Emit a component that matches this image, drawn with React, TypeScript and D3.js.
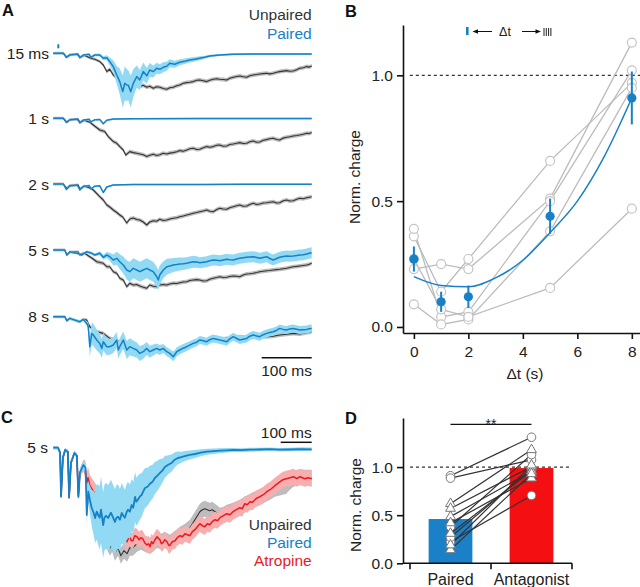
import React, { useRef, useEffect } from 'react';
import * as d3 from 'd3';

// ---------- panel A : mean traces, [time (ms), current (pA), sem (pA)] ----------
const a15Unpaired = [[0,0,15],[20,0,15],[27,-40,15],[33,-15,15],[50,-10,15],[53,-43,15],[62,-20,15],[75,-50,15],[83,-60,15],[93,-83,15],[100,-117,18],[107,-183,20],[113,-160,20],[120,-217,20],[133,-267,20],[147,-300,20],[160,-320,20],[173,-333,20],[180,-320,20],[187,-340,20],[193,-330,20],[200,-350,20],[207,-335,20],[213,-340,20],[220,-352,20],[227,-360,20],[233,-345,20],[240,-340,20],[247,-325,20],[253,-317,20],[260,-300,20],[267,-293,20],[273,-290,20],[280,-283,20],[287,-270,20],[293,-267,20],[300,-275,20],[307,-283,20],[313,-270,20],[320,-260,20],[327,-255,20],[333,-260,20],[340,-262,20],[347,-267,20],[353,-250,20],[360,-240,20],[367,-232,20],[373,-227,20],[380,-235,20],[387,-240,20],[393,-225,20],[400,-217,20],[407,-212,20],[413,-207,20],[420,-203,20],[427,-200,20],[433,-206,20],[440,-200,20],[447,-190,20],[453,-183,20],[460,-178,20],[467,-173,20],[473,-180,20],[480,-177,20],[487,-165,20],[493,-150,20],[500,-145,20],[507,-133,20],[512,-138,20],[517,-127,20]];
const a15Paired = [[0,0,10],[20,0,10],[26,-40,12],[33,-17,10],[48,-7,10],[53,-43,12],[60,-17,10],[72,-10,10],[75,-40,12],[83,-17,12],[93,-17,15],[100,-50,20],[107,-45,25],[113,-83,40],[120,-133,60],[127,-217,90],[133,-283,130],[139,-383,160],[143,-300,170],[147,-317,160],[150,-320,150],[155,-383,160],[160,-300,140],[167,-233,110],[173,-267,100],[180,-183,90],[187,-225,80],[193,-167,70],[200,-183,60],[207,-150,55],[213,-160,50],[220,-140,50],[227,-130,45],[233,-100,40],[243,-110,35],[253,-90,30],[263,-80,28],[273,-67,25],[283,-60,22],[293,-50,20],[303,-40,15],[313,-27,12],[333,-17,10],[360,-10,10],[400,-8,10],[440,-7,10],[517,-7,10]];

const a1Unpaired = [[0,0,15],[20,0,15],[27,-40,15],[33,-15,15],[50,-10,15],[53,-43,15],[62,-20,15],[73,-40,15],[80,-67,18],[93,-117,20],[103,-133,20],[110,-183,20],[120,-233,20],[127,-250,20],[133,-283,20],[140,-317,20],[145,-367,20],[153,-333,20],[160,-343,20],[167,-350,20],[173,-357,20],[180,-365,20],[187,-383,20],[193,-370,20],[200,-360,20],[207,-372,20],[213,-365,20],[220,-350,20],[227,-357,20],[233,-348,20],[240,-343,20],[247,-335,20],[253,-323,20],[260,-330,20],[267,-317,20],[273,-305,20],[280,-300,20],[287,-312,20],[293,-310,20],[300,-295,20],[307,-283,20],[313,-290,20],[320,-283,20],[327,-270,20],[333,-267,20],[340,-280,20],[347,-277,20],[353,-262,20],[360,-257,20],[367,-250,20],[373,-243,20],[380,-252,20],[387,-250,20],[393,-235,20],[400,-227,20],[407,-240,20],[413,-237,20],[420,-220,20],[427,-213,20],[433,-205,20],[440,-200,20],[447,-212,20],[453,-217,20],[460,-198,20],[467,-190,20],[473,-185,20],[480,-177,20],[487,-172,20],[493,-167,20],[500,-160,20],[507,-150,20],[512,-152,20],[517,-143,20]];
const a1Paired = [[0,0,8],[20,0,8],[26,-40,10],[33,-15,8],[48,-7,8],[53,-45,10],[60,-18,8],[72,-10,8],[75,-35,10],[83,-15,8],[93,-12,8],[100,-55,10],[107,-20,8],[120,-8,8],[160,-5,8],[300,-3,8],[517,-3,8]];

const a2Unpaired = [[0,0,15],[20,0,15],[27,-45,15],[33,-15,15],[50,-10,15],[53,-50,15],[62,-20,15],[75,-43,15],[80,-60,18],[93,-127,20],[100,-160,20],[107,-210,20],[113,-230,20],[120,-260,20],[127,-285,20],[133,-310,20],[139,-330,20],[143,-360,20],[147,-390,20],[153,-350,20],[160,-340,20],[167,-355,20],[173,-360,20],[180,-380,20],[187,-410,20],[193,-380,20],[200,-367,20],[207,-372,20],[213,-353,20],[220,-365,20],[227,-360,20],[233,-350,20],[240,-343,20],[247,-338,20],[253,-327,20],[260,-320,20],[267,-310,20],[273,-302,20],[280,-293,20],[287,-285,20],[293,-277,20],[300,-270,20],[307,-260,20],[313,-272,20],[320,-277,20],[327,-255,20],[333,-243,20],[340,-250,20],[347,-253,20],[353,-238,20],[360,-227,20],[367,-218,20],[373,-210,20],[380,-222,20],[387,-220,20],[393,-205,20],[400,-193,20],[407,-205,20],[413,-200,20],[420,-190,20],[427,-187,20],[433,-182,20],[440,-177,20],[447,-190,20],[453,-187,20],[460,-168,20],[467,-160,20],[473,-170,20],[480,-167,20],[487,-152,20],[493,-143,20],[500,-147,20],[507,-137,20],[512,-132,20],[517,-127,20]];
const a2Paired = [[0,0,8],[20,0,8],[26,-55,10],[33,-20,8],[48,-10,8],[53,-60,10],[60,-25,8],[72,-15,8],[75,-50,10],[83,-22,8],[93,-18,8],[100,-85,10],[107,-30,8],[120,-10,8],[160,-5,8],[300,-5,8],[380,-3,8],[517,-3,8]];

const a5Unpaired = [[0,0,15],[23,0,15],[27,-50,15],[33,-20,15],[50,-20,15],[53,-50,15],[62,-30,15],[73,-67,18],[77,-80,18],[87,-117,20],[100,-133,20],[107,-167,20],[113,-167,20],[120,-217,20],[127,-233,20],[133,-283,20],[140,-300,20],[147,-367,20],[153,-333,20],[160,-350,20],[167,-345,20],[173,-360,20],[180,-372,20],[187,-383,20],[193,-350,20],[200,-362,20],[207,-367,20],[213,-350,20],[220,-345,20],[227,-350,20],[233,-340,20],[240,-333,20],[247,-335,20],[253,-327,20],[260,-320,20],[267,-317,20],[273,-305,20],[280,-300,20],[287,-296,20],[293,-300,20],[300,-310,20],[307,-307,20],[313,-292,20],[320,-283,20],[327,-275,20],[333,-267,20],[340,-275,20],[347,-273,20],[353,-265,20],[360,-260,20],[367,-262,20],[373,-267,20],[380,-250,20],[387,-240,20],[393,-238,20],[400,-233,20],[407,-225,20],[413,-217,20],[420,-212,20],[427,-207,20],[433,-205,20],[440,-200,20],[447,-196,20],[453,-193,20],[460,-188,20],[467,-183,20],[473,-175,20],[480,-167,20],[487,-164,20],[493,-160,20],[500,-155,20],[507,-150,20],[512,-142,20],[517,-133,20]];
const a5Paired = [[0,0,8],[23,0,8],[27,-50,10],[33,-17,10],[53,-40,10],[57,-50,10],[67,-17,12],[77,-33,15],[83,-50,15],[93,-33,20],[100,-73,25],[107,-50,30],[113,-67,40],[120,-100,55],[127,-83,65],[133,-117,75],[140,-150,85],[147,-200,95],[153,-217,100],[160,-183,100],[167,-200,100],[173,-217,100],[180,-200,100],[187,-183,100],[193,-200,100],[200,-217,100],[207,-267,100],[210,-300,100],[213,-250,95],[220,-200,85],[227,-167,80],[233,-160,75],[240,-150,70],[247,-145,68],[253,-140,65],[260,-137,62],[267,-133,60],[273,-125,60],[280,-117,60],[287,-120,58],[293,-127,55],[300,-122,55],[307,-117,55],[313,-108,55],[320,-100,55],[327,-103,55],[333,-107,55],[340,-100,55],[347,-93,55],[353,-97,55],[360,-100,55],[367,-90,55],[373,-83,55],[380,-78,55],[387,-73,55],[393,-70,55],[400,-67,55],[407,-75,55],[413,-83,55],[420,-75,55],[427,-67,55],[433,-85,55],[440,-100,55],[447,-85,55],[453,-73,55],[460,-66,55],[467,-60,55],[473,-62,55],[480,-60,55],[487,-55,55],[493,-50,55],[500,-47,55],[507,-40,55],[512,-33,55],[517,-27,55]];

const a8Unpaired = [[0,0,15],[23,0,15],[27,-40,15],[33,-17,15],[53,-50,15],[60,-27,15],[67,-33,18],[73,-100,20],[87,-150,20],[100,-167,20],[113,-217,20],[127,-233,20],[140,-300,20],[147,-367,20],[160,-333,20],[173,-317,20],[187,-333,20],[200,-350,20],[213,-333,20],[227,-333,20],[240,-367,20],[253,-333,20],[267,-300,20],[280,-280,20],[293,-250,20],[307,-245,20],[320,-233,20],[333,-228,20],[347,-217,20],[360,-210,20],[373,-200,20],[387,-205,20],[400,-200,20],[413,-198,20],[427,-200,20],[440,-195,20],[453,-183,20],[467,-175,20],[480,-167,20],[493,-173,20],[507,-160,20],[517,-150,20]];
const a8Paired = [[0,0,10],[23,0,10],[27,-40,12],[33,-17,12],[53,-50,15],[60,-27,15],[67,-67,20],[70,-100,50],[73,-300,100],[77,-167,110],[80,-183,110],[87,-233,105],[93,-267,100],[97,-317,95],[100,-250,90],[107,-300,85],[113,-300,80],[120,-283,80],[127,-233,80],[130,-333,85],[133,-300,85],[140,-233,85],[147,-333,90],[153,-300,85],[160,-317,80],[167,-333,75],[173,-367,75],[180,-350,70],[187,-317,65],[193,-350,60],[200,-333,55],[207,-317,50],[213,-333,50],[220,-317,45],[227,-350,45],[233,-367,45],[240,-400,45],[247,-350,45],[253,-333,42],[260,-315,42],[267,-300,42],[273,-285,40],[280,-267,40],[287,-255,40],[293,-233,40],[300,-240,40],[307,-250,40],[313,-230,40],[320,-217,40],[327,-225,40],[333,-233,40],[340,-240,40],[347,-250,40],[353,-222,40],[360,-200,40],[367,-218,40],[373,-233,40],[380,-225,40],[387,-217,40],[393,-195,40],[400,-183,40],[407,-192,40],[413,-200,40],[420,-180,40],[427,-167,40],[433,-158,40],[440,-150,40],[447,-135,40],[453,-117,40],[460,-127,40],[467,-133,40],[473,-122,40],[480,-117,40],[487,-125,40],[493,-133,40],[500,-130,40],[507,-127,40],[512,-120,40],[517,-117,40]];

const aRowLabels = ['15 ms', '1 s', '2 s', '5 s', '8 s'];
const aUnpaired = [a15Unpaired, a1Unpaired, a2Unpaired, a5Unpaired, a8Unpaired];
const aPaired = [a15Paired, a1Paired, a2Paired, a5Paired, a8Paired];

// ---------- panel B : normalized charge vs interval ----------
const bDt = [0, 1, 2, 5, 8];
const bCell1 = [0.36, 0.14, 0.27, 0.66, 0.97];
const bCell2 = [0.23, 0.25, 0.23, 0.51, 1.13];
const bCell3 = [0.39, 0.04, 0.06, 0.50, 1.02];
const bCell4 = [0.09, 0.01, 0.03, 0.38, 0.95];
const bCell5 = [0.27, 0.07, 0.04, 0.155, 0.47];
const bMean = [0.27, 0.10, 0.12, 0.44, 0.91];
const bSem = [0.05, 0.04, 0.045, 0.07, 0.105];
const bFitDt = [0, 1, 2, 3, 4, 5, 6, 7, 8];
const bFitVal = [0.20, 0.165, 0.16, 0.195, 0.265, 0.375, 0.50, 0.68, 0.91];

// ---------- panel C : 5 s interval, [time (ms), current (pA), sem (pA)] ----------
const cUnpaired = [[0,0,15],[15,0,15],[22,-50,20],[25,-480,30],[31,-100,25],[38,-25,20],[47,-40,20],[51,-500,30],[57,-150,25],[68,-55,20],[76,-80,25],[81,-480,30],[86,-250,40],[97,-180,50],[104,-220,60],[108,-380,70],[118,-450,80],[128,-520,80],[140,-600,80],[151,-700,80],[160,-800,80],[167,-880,80],[175,-950,80],[183,-1000,80],[190,-960,80],[199,-1050,80],[209,-1000,80],[218,-1080,80],[228,-1030,80],[238,-1060,80],[247,-1000,80],[257,-1000,80],[270,-960,80],[283,-940,80],[295,-960,80],[312,-980,80],[322,-960,80],[335,-920,80],[349,-940,80],[360,-920,80],[376,-950,80],[393,-910,80],[409,-870,80],[425,-840,80],[441,-800,80],[457,-720,80],[465,-680,80],[473,-640,80],[481,-620,80],[489,-610,80],[497,-620,80],[505,-630,80],[513,-620,80],[522,-640,80],[530,-660,80],[538,-680,80],[549,-670,80],[560,-650,80],[580,-630,80],[602,-600,80],[618,-570,80],[635,-540,80],[651,-515,80],[667,-495,80],[689,-455,80],[700,-440,80],[715,-410,80],[728,-400,80],[741,-390,80],[752,-380,80],[764,-340,80],[775,-310,80],[786,-300,80],[800,-295,80],[812,-300,80],[822,-300,80],[834,-300,80]];
const cPaired = [[0,0,15],[15,0,15],[22,-50,20],[25,-490,30],[31,-100,25],[38,-23,20],[47,-40,20],[51,-493,30],[57,-150,25],[68,-53,20],[76,-80,25],[81,-493,30],[86,-250,40],[97,-173,40],[104,-200,60],[108,-673,90],[113,-440,110],[118,-520,140],[124,-603,180],[130,-650,220],[135,-703,250],[140,-640,280],[145,-673,300],[150,-700,320],[154,-620,330],[161,-773,330],[165,-700,330],[170,-680,330],[177,-703,330],[186,-650,330],[193,-700,330],[199,-743,330],[204,-700,330],[209,-690,320],[215,-720,310],[221,-653,300],[226,-680,290],[231,-700,280],[236,-650,280],[241,-620,280],[247,-640,270],[253,-573,260],[258,-600,260],[264,-493,250],[268,-540,240],[273,-520,240],[279,-490,230],[285,-473,220],[290,-440,210],[296,-403,200],[304,-390,190],[312,-360,180],[320,-340,170],[328,-303,160],[336,-280,150],[344,-253,140],[352,-230,120],[360,-193,110],[371,-170,95],[383,-150,85],[392,-120,75],[402,-103,65],[413,-95,55],[425,-83,50],[440,-72,45],[457,-63,40],[476,-50,35],[496,-40,30],[517,-35,28],[538,-30,25],[560,-26,22],[580,-23,20],[607,-25,20],[634,-20,20],[666,-18,18],[699,-15,18],[730,-20,18],[763,-18,18],[800,-14,18],[834,-16,18]];
const cAtropine = [[0,0,15],[15,0,15],[22,-50,20],[25,-480,30],[31,-100,25],[38,-25,20],[47,-40,20],[51,-500,30],[57,-150,25],[68,-55,20],[76,-80,25],[81,-480,30],[86,-250,40],[97,-180,60],[102,-200,80],[108,-350,100],[112,-300,110],[118,-380,110],[128,-430,110],[140,-480,100],[151,-550,90],[160,-580,90],[167,-620,90],[175,-660,90],[183,-700,90],[191,-760,85],[199,-800,80],[209,-850,80],[215,-906,80],[220,-880,80],[225,-880,80],[231,-920,80],[238,-940,80],[243,-900,80],[247,-900,80],[252,-930,80],[257,-930,80],[263,-880,80],[270,-890,80],[277,-920,80],[283,-900,80],[289,-910,80],[295,-950,80],[302,-973,80],[307,-960,80],[312,-990,80],[317,-940,80],[322,-960,80],[328,-920,80],[335,-890,80],[340,-910,80],[344,-920,80],[349,-960,80],[354,-950,80],[360,-920,80],[367,-940,80],[372,-973,80],[376,-980,80],[384,-940,80],[393,-930,80],[400,-900,80],[409,-880,80],[417,-890,80],[425,-860,80],[433,-870,80],[441,-880,80],[449,-840,80],[457,-820,80],[465,-790,80],[473,-760,80],[481,-780,80],[489,-790,80],[497,-760,80],[505,-770,80],[513,-740,80],[522,-720,80],[530,-730,80],[538,-700,80],[549,-680,80],[560,-660,80],[570,-670,80],[580,-640,80],[591,-620,80],[602,-600,80],[610,-610,80],[618,-560,80],[626,-570,80],[635,-540,80],[643,-545,80],[651,-520,80],[659,-500,80],[667,-490,80],[678,-470,80],[689,-440,80],[700,-420,80],[715,-380,80],[728,-350,80],[741,-320,80],[752,-310,80],[764,-300,80],[775,-290,80],[786,-310,80],[796,-290,80],[804,-300,80],[812,-310,80],[822,-300,80],[834,-310,80]];

// ---------- panel D : paired vs antagonist ----------
const dGroups = ['Paired', 'Antagonist'];
const dBars = [0.46, 0.99];
const dPairedVals = [0.91, 0.885, 0.38, 0.225, 0.27, 0.62, 0.57, 0.485, 0.42, 0.31, 0.14, 0.19];
const dAntagVals = [1.31, 1.075, 1.13, 0.705, 0.98, 1.18, 1.005, 0.955, 0.885, 0.96, 0.93, 1.02];
const dShapes = ['c', 'c', 'c', 'c', 'c', 't', 't', 't', 't', 't', 't', 't'];

const BLUE = '#1681c6';
const LIGHTBLUE = '#92d9f4';
const RED = '#ea1b1f';
const PINK = '#f8aeae';
const GRAYBAND = '#bdbdbd';
const DARK = '#333';

const App = () => {
    const ref = useRef<SVGSVGElement>(null);

    useEffect(() => {
        const svg = d3.select(ref.current);
        svg.selectAll('*').remove();
        const font = 'Arial, "Liberation Sans", sans-serif';

        const txt = (x: number, y: number, s: string, opts: any = {}) =>
            svg.append('text').attr('x', x).attr('y', y).text(s)
                .attr('font-family', font)
                .attr('font-size', opts.size || 15.5)
                .attr('font-weight', opts.weight || 'normal')
                .attr('fill', opts.fill || '#222')
                .attr('text-anchor', opts.anchor || 'start');

        const band = (g: any, data: number[][], x: any, y: any, color: string) =>
            g.append('path').datum(data).attr('fill', color).attr('stroke', 'none')
                .attr('d', d3.area<number[]>().x(d => x(d[0])).y0(d => y(d[1] - d[2])).y1(d => y(d[1] + d[2])));
        const line = (g: any, data: number[][], x: any, y: any, color: string, w: number) =>
            g.append('path').datum(data).attr('fill', 'none').attr('stroke', color)
                .attr('stroke-width', w).attr('stroke-linejoin', 'round')
                .attr('d', d3.line<number[]>().x(d => x(d[0])).y(d => y(d[1])));

        // ---------------- A ----------------
        const xA = d3.scaleLinear().domain([0, 517]).range([53.3, 311.7]);
        const rowBase = [53.3, 118.3, 184, 250, 316.7];
        const gA = svg.append('g');
        rowBase.forEach((base, i) => {
            const y = d3.scaleLinear().domain([0, -1000]).range([base, base + 100]);
            band(gA, aUnpaired[i], xA, y, GRAYBAND);
            line(gA, aUnpaired[i], xA, y, DARK, 1.1);
            band(gA, aPaired[i], xA, y, LIGHTBLUE);
            line(gA, aPaired[i], xA, y, BLUE, 1.5);
            txt(49, base + 5.5, aRowLabels[i], { anchor: 'end' });
        });
        // stimulus marker for 15 ms
        gA.append('rect').attr('x', xA(8)).attr('y', rowBase[0] - 9).attr('width', 2).attr('height', 4).attr('fill', BLUE);
        txt(311.7, 20, 'Unpaired', { anchor: 'end', fill: DARK });
        txt(311.7, 38.5, 'Paired', { anchor: 'end', fill: BLUE });
        gA.append('line').attr('x1', xA(417)).attr('x2', xA(517)).attr('y1', 357.7).attr('y2', 357.7).attr('stroke', '#111').attr('stroke-width', 1.5);
        txt(312, 376, '100 ms', { anchor: 'end' });
        txt(2, 16, 'A', { weight: 'bold', size: 16.5, fill: '#111' });

        // ---------------- B ----------------
        const xB = d3.scaleLinear().domain([-0.4, 8.3]).range([403, 640]);
        const yB = d3.scaleLinear().domain([-0.024, 1.2]).range([333, 25]);
        const gB = svg.append('g');
        gB.append('line').attr('x1', xB(-0.15)).attr('x2', 640).attr('y1', yB(1)).attr('y2', yB(1))
            .attr('stroke', DARK).attr('stroke-width', 1.3).attr('stroke-dasharray', '3,3');
        const cells = [bCell1, bCell2, bCell3, bCell4, bCell5];
        const cellLine = d3.line<number>().x((d, i) => xB(bDt[i])).y(d => yB(d));
        cells.forEach(c => {
            gB.append('path').datum(c).attr('fill', 'none').attr('stroke', '#bcbcbc').attr('stroke-width', 1.3).attr('d', cellLine);
        });
        cells.forEach(c => c.forEach((v, i) => {
            gB.append('circle').attr('cx', xB(bDt[i])).attr('cy', yB(v)).attr('r', 4.5)
                .attr('fill', '#fff').attr('stroke', '#c4c4c4').attr('stroke-width', 1.2);
        }));
        gB.append('path').datum(bFitVal).attr('fill', 'none').attr('stroke', BLUE).attr('stroke-width', 1.5)
            .attr('d', d3.line<number>().x((d, i) => xB(bFitDt[i])).y(d => yB(d)).curve(d3.curveMonotoneX));
        bMean.forEach((m, i) => {
            gB.append('line').attr('x1', xB(bDt[i])).attr('x2', xB(bDt[i]))
                .attr('y1', yB(m - bSem[i])).attr('y2', yB(m + bSem[i])).attr('stroke', BLUE).attr('stroke-width', 2);
            gB.append('circle').attr('cx', xB(bDt[i])).attr('cy', yB(m)).attr('r', 4.6).attr('fill', BLUE);
        });
        const axBL = gB.append('g').attr('transform', 'translate(403,0)')
            .call(d3.axisLeft(yB).tickValues([0, 0.5, 1]).tickFormat(d3.format('.1f')).tickSize(6).tickSizeOuter(0).tickPadding(4));
        const axBB = gB.append('g').attr('transform', 'translate(0,333)')
            .call(d3.axisBottom(xB).tickValues([0, 2, 4, 6, 8]).tickFormat(d3.format('d')).tickSize(6).tickSizeOuter(0).tickPadding(7));
        [axBL, axBB].forEach(ax => {
            ax.selectAll('path,line').attr('stroke', '#111').attr('stroke-width', 1.6);
            ax.selectAll('text').attr('font-size', 15.5).attr('font-family', font).attr('fill', '#222');
        });
        txt(525, 379, 'Δt (s)', { anchor: 'middle' });
        svg.append('text').attr('transform', 'translate(360,177) rotate(-90)').attr('text-anchor', 'middle')
            .attr('font-family', font).attr('font-size', 15.5).attr('fill', '#222').text('Norm. charge');
        // legend
        gB.append('rect').attr('x', 466).attr('y', 27).attr('width', 2.6).attr('height', 8).attr('fill', BLUE);
        gB.append('line').attr('x1', 476).attr('x2', 492).attr('y1', 31.5).attr('y2', 31.5).attr('stroke', '#111').attr('stroke-width', 1);
        gB.append('path').attr('d', 'M472.5,31.5L478,29.3L478,33.7Z').attr('fill', '#111');
        txt(505, 36, 'Δt', { size: 12.5, anchor: 'middle' });
        gB.append('line').attr('x1', 522).attr('x2', 537).attr('y1', 31.5).attr('y2', 31.5).attr('stroke', '#111').attr('stroke-width', 1);
        gB.append('path').attr('d', 'M541,31.5L535.5,29.3L535.5,33.7Z').attr('fill', '#111');
        [544, 546.3, 548.6, 550.9].forEach(x => {
            gB.append('line').attr('x1', x).attr('x2', x).attr('y1', 28).attr('y2', 36).attr('stroke', '#222').attr('stroke-width', 1);
        });
        txt(345, 17, 'B', { weight: 'bold', size: 16.5, fill: '#111' });

        // ---------------- C ----------------
        const xC = d3.scaleLinear().domain([0, 834]).range([53.3, 311.7]);
        const yC = d3.scaleLinear().domain([0, -1000]).range([447.7, 547.7]);
        const gC = svg.append('g');
        band(gC, cUnpaired, xC, yC, GRAYBAND);
        line(gC, cUnpaired, xC, yC, DARK, 1.1);
        band(gC, cAtropine, xC, yC, PINK);
        line(gC, cAtropine, xC, yC, RED, 1.5);
        band(gC, cPaired, xC, yC, LIGHTBLUE);
        line(gC, cPaired, xC, yC, BLUE, 1.8);
        txt(48, 453, '5 s', { anchor: 'end' });
        gC.append('line').attr('x1', xC(734)).attr('x2', xC(834)).attr('y1', 442.3).attr('y2', 442.3).attr('stroke', '#111').attr('stroke-width', 1.5);
        txt(311.7, 438, '100 ms', { anchor: 'end' });
        txt(311.7, 530, 'Unpaired', { anchor: 'end', fill: DARK });
        txt(311.7, 547.5, 'Paired', { anchor: 'end', fill: BLUE });
        txt(311.7, 565.5, 'Atropine', { anchor: 'end', fill: RED });
        txt(1, 423, 'C', { weight: 'bold', size: 16.5, fill: '#111' });

        // ---------------- D ----------------
        const xD = d3.scaleBand().domain(dGroups).range([410, 572]);
        const yD = d3.scaleLinear().domain([0, 1.51]).range([563.3, 418]);
        const bw = xD.bandwidth();
        const cx = (g: string) => (xD(g) as number) + bw / 2;
        const gD = svg.append('g');
        gD.append('line').attr('x1', 410).attr('x2', 570).attr('y1', yD(1)).attr('y2', yD(1))
            .attr('stroke', DARK).attr('stroke-width', 1.3).attr('stroke-dasharray', '3,3');
        dGroups.forEach((g, i) => {
            gD.append('rect').attr('x', cx(g) - bw * 0.27).attr('width', bw * 0.54)
                .attr('y', yD(dBars[i])).attr('height', yD(0) - yD(dBars[i])).attr('fill', i === 0 ? '#1a80c8' : '#f40f12');
        });
        dPairedVals.forEach((p, i) => {
            gD.append('line').attr('x1', cx('Paired')).attr('x2', cx('Antagonist'))
                .attr('y1', yD(p)).attr('y2', yD(dAntagVals[i])).attr('stroke', DARK).attr('stroke-width', 1.2);
        });
        const marker = (x: number, v: number, s: string) => {
            if (s === 'c') {
                gD.append('circle').attr('cx', x).attr('cy', yD(v)).attr('r', 4.3)
                    .attr('fill', '#fff').attr('stroke', '#777').attr('stroke-width', 1);
            } else {
                gD.append('path').attr('transform', `translate(${x},${yD(v)})`)
                    .attr('d', d3.symbol(d3.symbolTriangle, 42)())
                    .attr('fill', '#fff').attr('stroke', '#777').attr('stroke-width', 1);
            }
        };
        dPairedVals.forEach((p, i) => marker(cx('Paired'), p, dShapes[i]));
        dAntagVals.forEach((p, i) => marker(cx('Antagonist'), p, dShapes[i]));
        const axDL = gD.append('g').attr('transform', 'translate(403,0)')
            .call(d3.axisLeft(yD).tickValues([0, 0.5, 1]).tickFormat(d3.format('.1f')).tickSize(6).tickSizeOuter(0).tickPadding(4));
        axDL.selectAll('path,line').attr('stroke', '#111').attr('stroke-width', 1.6);
        axDL.selectAll('text').attr('font-size', 15.5).attr('font-family', font).attr('fill', '#222');
        gD.append('line').attr('x1', 403).attr('x2', 572).attr('y1', yD(0)).attr('y2', yD(0)).attr('stroke', '#111').attr('stroke-width', 1.6);
        [...dGroups.map(g => xD(g) as number), 572].forEach(x => {
            gD.append('line').attr('x1', x).attr('x2', x).attr('y1', yD(0)).attr('y2', yD(0) + 6).attr('stroke', '#111').attr('stroke-width', 1.6);
        });
        dGroups.forEach(g => txt(cx(g), 585, g, { anchor: 'middle', size: 16 }));
        gD.append('line').attr('x1', cx('Paired')).attr('x2', cx('Antagonist')).attr('y1', 424.3).attr('y2', 424.3).attr('stroke', '#111').attr('stroke-width', 1.3);
        txt((cx('Paired') + cx('Antagonist')) / 2, 429, '**', { anchor: 'middle', size: 14 });
        svg.append('text').attr('transform', 'translate(361,505) rotate(-90)').attr('text-anchor', 'middle')
            .attr('font-family', font).attr('font-size', 15.5).attr('fill', '#222').text('Norm. charge');
        txt(345, 424, 'D', { weight: 'bold', size: 16.5, fill: '#111' });
    }, []);

    return (
        <svg ref={ref} width={640} height={587} style={{ position: 'absolute', left: 0, top: 0, background: '#fff' }} />
    );
};

export default App;
